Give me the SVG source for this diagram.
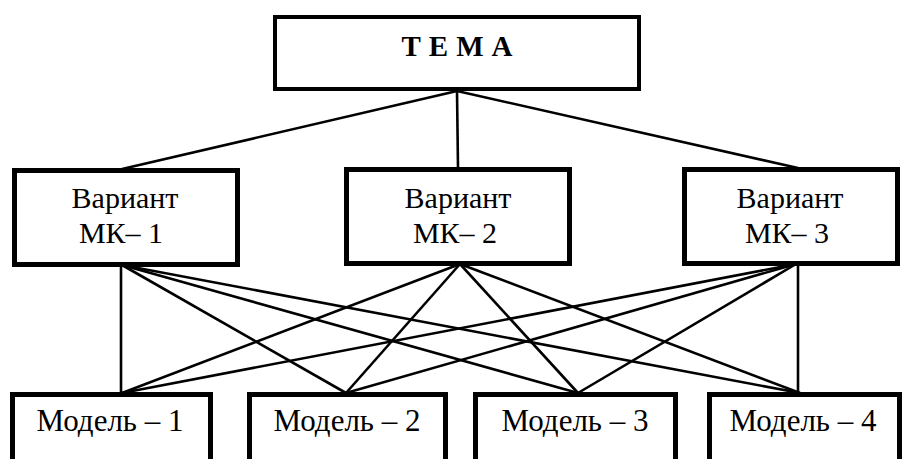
<svg xmlns="http://www.w3.org/2000/svg" width="902" height="459" viewBox="0 0 902 459">
<style>
  .box { fill: #fff; stroke: #000; }
  .t { font-family: "Liberation Serif", "DejaVu Serif", serif; font-size: 30px; fill: #000; text-anchor: middle; }
  .m { font-size: 31px; }
  .title { font-family: "Liberation Serif", "DejaVu Serif", serif; font-size: 29px; font-weight: bold; letter-spacing: 8px; fill: #000; text-anchor: middle; }
  .c line { stroke: #000; stroke-width: 2.6; }
</style>
<rect width="902" height="459" fill="#fff"/>
<g class="c" id="connectors">
  <line x1="457" y1="91" x2="122" y2="169"/>
  <line x1="457" y1="91" x2="458" y2="168"/>
  <line x1="457" y1="91" x2="798" y2="168"/>
  <line x1="121" y1="265" x2="121" y2="393"/>
  <line x1="122" y1="265" x2="346" y2="393"/>
  <line x1="122" y1="265" x2="578" y2="393"/>
  <line x1="122" y1="265" x2="800" y2="393"/>
  <line x1="460" y1="264" x2="122" y2="393"/>
  <line x1="460" y1="264" x2="346" y2="393"/>
  <line x1="460" y1="264" x2="578" y2="393"/>
  <line x1="460" y1="264" x2="800" y2="393"/>
  <line x1="796" y1="264" x2="122" y2="393"/>
  <line x1="796" y1="264" x2="346" y2="393"/>
  <line x1="796" y1="264" x2="578" y2="393"/>
  <line x1="798" y1="264" x2="798" y2="393"/>
</g>
<g id="tema">
  <rect class="box" x="275" y="17" width="364" height="72" stroke-width="4"/>
  <text class="title" x="461" y="56">ТЕМА</text>
</g>
<g id="mk1">
  <rect class="box" x="14.5" y="170.5" width="223" height="94" stroke-width="5"/>
  <text class="t" x="125" y="208">Вариант</text>
  <text class="t" x="121" y="243">МК– 1</text>
</g>
<g id="mk2">
  <rect class="box" x="346.5" y="169.5" width="223" height="94" stroke-width="5"/>
  <text class="t" x="458" y="208">Вариант</text>
  <text class="t" x="455" y="243">МК– 2</text>
</g>
<g id="mk3">
  <rect class="box" x="684.5" y="169.5" width="213" height="94" stroke-width="5"/>
  <text class="t" x="790" y="208">Вариант</text>
  <text class="t" x="787" y="243">МК– 3</text>
</g>
<g id="m1">
  <rect class="box" x="12.5" y="394.5" width="198" height="80" stroke-width="5"/>
  <text class="t m" x="110" y="431">Модель – 1</text>
</g>
<g id="m2">
  <rect class="box" x="249.5" y="394.5" width="196" height="80" stroke-width="5"/>
  <text class="t m" x="347" y="431">Модель – 2</text>
</g>
<g id="m3">
  <rect class="box" x="475.5" y="394.5" width="200" height="80" stroke-width="5"/>
  <text class="t m" x="575" y="431">Модель – 3</text>
</g>
<g id="m4">
  <rect class="box" x="709.5" y="394.5" width="190" height="80" stroke-width="5"/>
  <text class="t m" x="803" y="431">Модель – 4</text>
</g>
</svg>
